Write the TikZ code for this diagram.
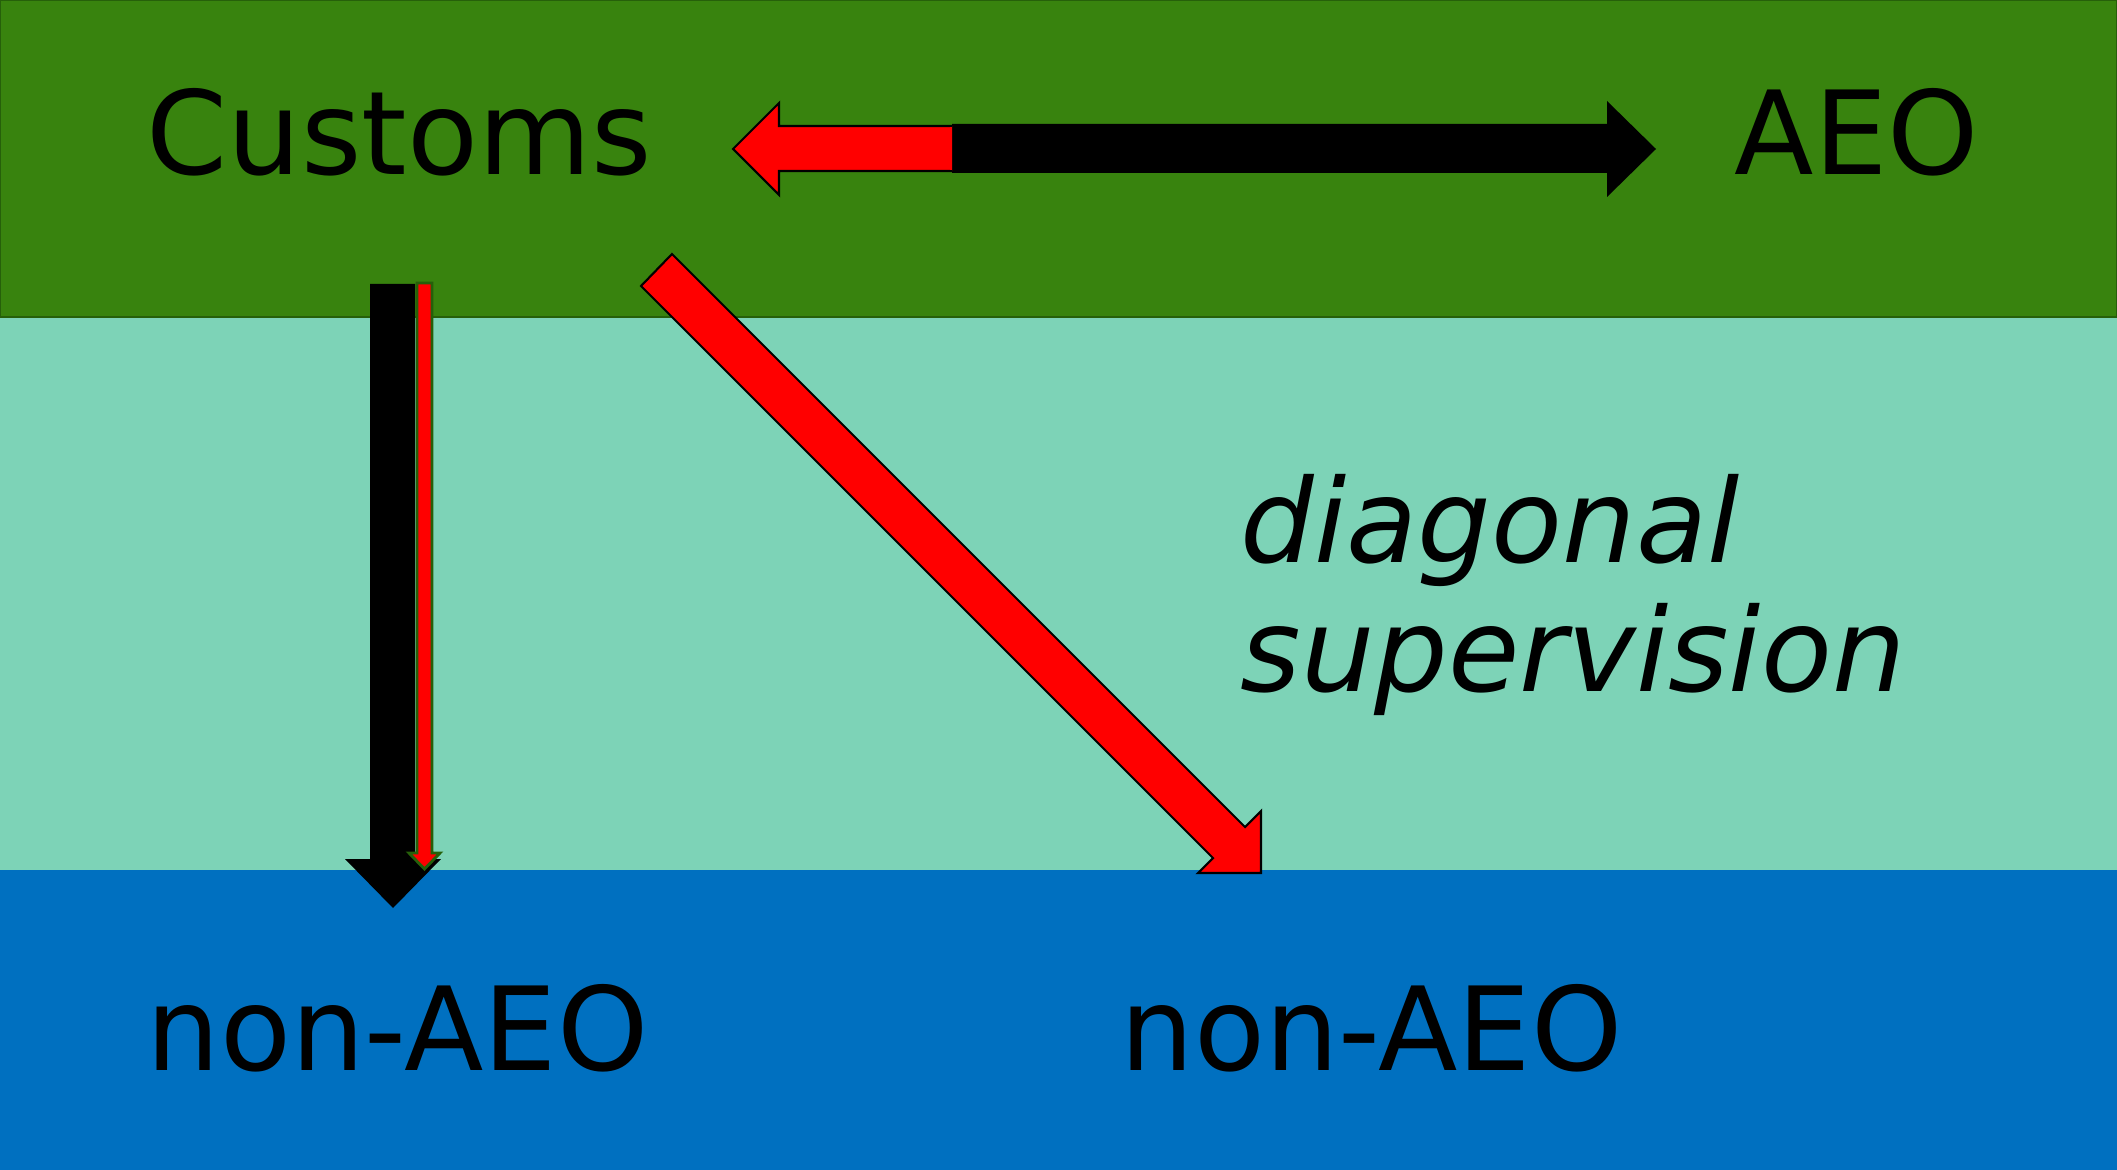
\documentclass[tikz,border=0pt]{standalone}
\usepackage{fontspec}
\setmainfont{DejaVu Sans}
\definecolor{bandgreen}{RGB}{56,131,14}
\definecolor{bandteal}{RGB}{125,211,183}
\definecolor{bandblue}{RGB}{0,112,192}
\definecolor{edgegreen}{RGB}{38,96,10}
\definecolor{arrowred}{RGB}{255,0,0}
\begin{document}
\begin{tikzpicture}[x=0.01cm,y=-0.01cm,
  label/.style={anchor=base west,inner sep=0pt,font=\fontsize{33}{40}\selectfont},
  redarrow/.style={fill=arrowred,draw=black,line width=0.6pt,line join=miter},
  blackarrow/.style={fill=black,draw=none}]
\useasboundingbox (0,0) rectangle (2117,1170);
% bands
\fill[bandteal] (0,317) rectangle (2117,870);
\fill[bandblue] (0,870) rectangle (2117,1170);
\fill[bandgreen] (0,0) rectangle (2117,317);
\draw[edgegreen,line width=0.5pt] (0.5,0.5) rectangle (2116.5,317);
% labels
\node[label] (customs) at (146,175) {Customs};
\node[label] (aeo) at (1734,175) {AEO};
\node[label] (nonaeoL) at (146,1070) {non-AEO};
\node[label] (nonaeoR) at (1120,1070) {non-AEO};
\node[anchor=base west,inner sep=0pt,align=left,font=\fontsize{33}{36.4}\selectfont\itshape] (diag) at (1240,691) {diagonal\\supervision};
% horizontal double arrow (black) with red left part
\fill[blackarrow] (952,124) -- (1607,124) -- (1607,101) -- (1656,149) -- (1607,197) -- (1607,173) -- (952,173) -- cycle;
\draw[redarrow] (952,126) -- (779,126) -- (779,103) -- (733,149) -- (779,195) -- (779,171) -- (952,171);
\fill[arrowred] (950,127) rectangle (952,170);
% vertical black arrow
\fill[blackarrow] (370,284) -- (415,284) -- (415,859) -- (441,859) -- (393,908) -- (345,859) -- (370,859) -- cycle;
% vertical red arrow
\draw[fill=arrowred,draw=edgegreen,line width=0.8pt,line join=miter] (417,283) -- (432,283) -- (432,853) -- (440,853) -- (424.5,869) -- (409,853) -- (417,853) -- cycle;
% diagonal red arrow
\draw[redarrow] (672,254) -- (1245,827) -- (1261,811) -- (1261,873) -- (1198,873) -- (1213,858) -- (641,286) -- cycle;
\end{tikzpicture}
\end{document}
